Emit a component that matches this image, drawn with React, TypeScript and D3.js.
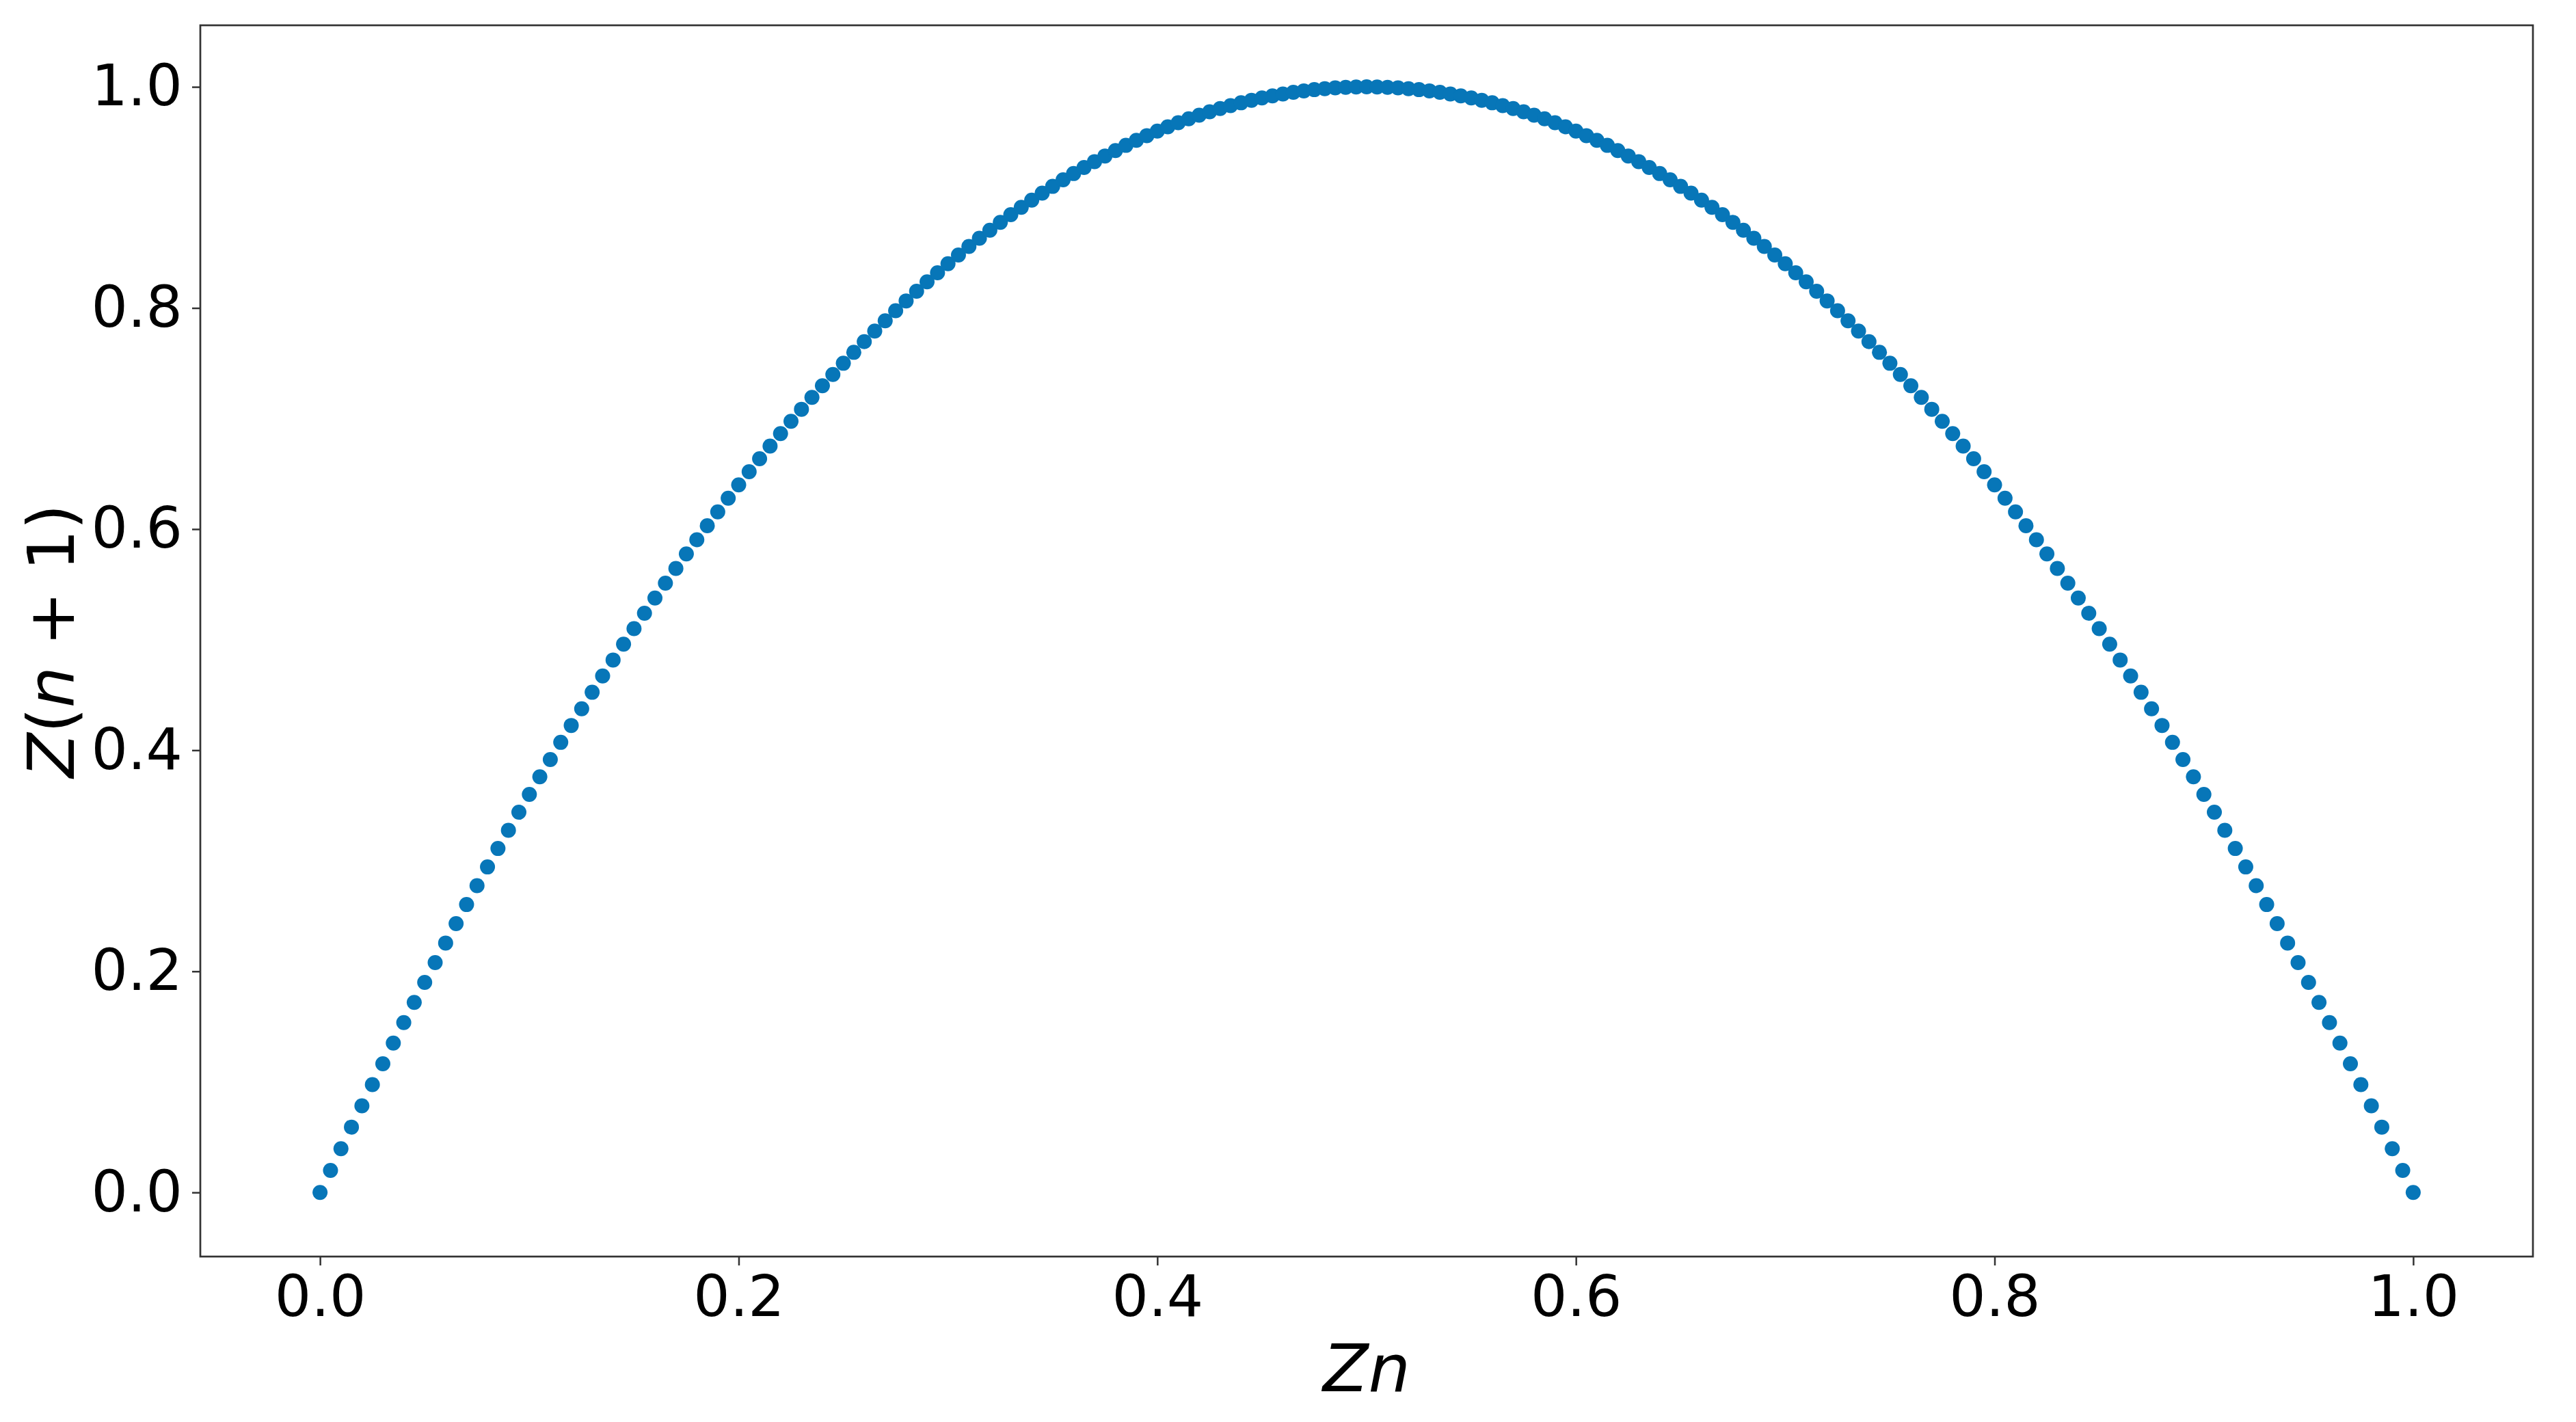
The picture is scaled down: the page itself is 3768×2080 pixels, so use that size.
import React, { useEffect, useRef } from 'react';
import * as d3 from 'd3';

// Zn values (x axis)
const zn: number[] = [
  0, 0.005, 0.01, 0.015, 0.02, 0.025, 0.03, 0.035, 0.04, 0.045,
  0.05, 0.055, 0.06, 0.065, 0.07, 0.075, 0.08, 0.085, 0.09, 0.095,
  0.1, 0.105, 0.11, 0.115, 0.12, 0.125, 0.13, 0.135, 0.14, 0.145,
  0.15, 0.155, 0.16, 0.165, 0.17, 0.175, 0.18, 0.185, 0.19, 0.195,
  0.2, 0.205, 0.21, 0.215, 0.22, 0.225, 0.23, 0.235, 0.24, 0.245,
  0.25, 0.255, 0.26, 0.265, 0.27, 0.275, 0.28, 0.285, 0.29, 0.295,
  0.3, 0.305, 0.31, 0.315, 0.32, 0.325, 0.33, 0.335, 0.34, 0.345,
  0.35, 0.355, 0.36, 0.365, 0.37, 0.375, 0.38, 0.385, 0.39, 0.395,
  0.4, 0.405, 0.41, 0.415, 0.42, 0.425, 0.43, 0.435, 0.44, 0.445,
  0.45, 0.455, 0.46, 0.465, 0.47, 0.475, 0.48, 0.485, 0.49, 0.495,
  0.5, 0.505, 0.51, 0.515, 0.52, 0.525, 0.53, 0.535, 0.54, 0.545,
  0.55, 0.555, 0.56, 0.565, 0.57, 0.575, 0.58, 0.585, 0.59, 0.595,
  0.6, 0.605, 0.61, 0.615, 0.62, 0.625, 0.63, 0.635, 0.64, 0.645,
  0.65, 0.655, 0.66, 0.665, 0.67, 0.675, 0.68, 0.685, 0.69, 0.695,
  0.7, 0.705, 0.71, 0.715, 0.72, 0.725, 0.73, 0.735, 0.74, 0.745,
  0.75, 0.755, 0.76, 0.765, 0.77, 0.775, 0.78, 0.785, 0.79, 0.795,
  0.8, 0.805, 0.81, 0.815, 0.82, 0.825, 0.83, 0.835, 0.84, 0.845,
  0.85, 0.855, 0.86, 0.865, 0.87, 0.875, 0.88, 0.885, 0.89, 0.895,
  0.9, 0.905, 0.91, 0.915, 0.92, 0.925, 0.93, 0.935, 0.94, 0.945,
  0.95, 0.955, 0.96, 0.965, 0.97, 0.975, 0.98, 0.985, 0.99, 0.995,
  1,
];

// Z(n+1) values (y axis)
const zNext: number[] = [
  0, 0.0199, 0.0396, 0.0591, 0.0784, 0.0975, 0.1164, 0.1351, 0.1536, 0.1719,
  0.19, 0.2079, 0.2256, 0.2431, 0.2604, 0.2775, 0.2944, 0.3111, 0.3276, 0.3439,
  0.36, 0.3759, 0.3916, 0.4071, 0.4224, 0.4375, 0.4524, 0.4671, 0.4816, 0.4959,
  0.51, 0.5239, 0.5376, 0.5511, 0.5644, 0.5775, 0.5904, 0.6031, 0.6156, 0.6279,
  0.64, 0.6519, 0.6636, 0.6751, 0.6864, 0.6975, 0.7084, 0.7191, 0.7296, 0.7399,
  0.75, 0.7599, 0.7696, 0.7791, 0.7884, 0.7975, 0.8064, 0.8151, 0.8236, 0.8319,
  0.84, 0.8479, 0.8556, 0.8631, 0.8704, 0.8775, 0.8844, 0.8911, 0.8976, 0.9039,
  0.91, 0.9159, 0.9216, 0.9271, 0.9324, 0.9375, 0.9424, 0.9471, 0.9516, 0.9559,
  0.96, 0.9639, 0.9676, 0.9711, 0.9744, 0.9775, 0.9804, 0.9831, 0.9856, 0.9879,
  0.99, 0.9919, 0.9936, 0.9951, 0.9964, 0.9975, 0.9984, 0.9991, 0.9996, 0.9999,
  1, 0.9999, 0.9996, 0.9991, 0.9984, 0.9975, 0.9964, 0.9951, 0.9936, 0.9919,
  0.99, 0.9879, 0.9856, 0.9831, 0.9804, 0.9775, 0.9744, 0.9711, 0.9676, 0.9639,
  0.96, 0.9559, 0.9516, 0.9471, 0.9424, 0.9375, 0.9324, 0.9271, 0.9216, 0.9159,
  0.91, 0.9039, 0.8976, 0.8911, 0.8844, 0.8775, 0.8704, 0.8631, 0.8556, 0.8479,
  0.84, 0.8319, 0.8236, 0.8151, 0.8064, 0.7975, 0.7884, 0.7791, 0.7696, 0.7599,
  0.75, 0.7399, 0.7296, 0.7191, 0.7084, 0.6975, 0.6864, 0.6751, 0.6636, 0.6519,
  0.64, 0.6279, 0.6156, 0.6031, 0.5904, 0.5775, 0.5644, 0.5511, 0.5376, 0.5239,
  0.51, 0.4959, 0.4816, 0.4671, 0.4524, 0.4375, 0.4224, 0.4071, 0.3916, 0.3759,
  0.36, 0.3439, 0.3276, 0.3111, 0.2944, 0.2775, 0.2604, 0.2431, 0.2256, 0.2079,
  0.19, 0.1719, 0.1536, 0.1351, 0.1164, 0.0975, 0.0784, 0.0591, 0.0396, 0.0199,
  0,
];

const xTicks = [0, 0.2, 0.4, 0.6, 0.8, 1.0];
const yTicks = [0, 0.2, 0.4, 0.6, 0.8, 1.0];

const W = 3768, H = 2080;
const margin = { top: 37, right: 63, bottom: 242, left: 293 };

export default function App() {
  const svgRef = useRef<SVGSVGElement>(null);

  useEffect(() => {
    const svg = d3.select(svgRef.current);
    svg.selectAll('*').remove();

    const width = W - margin.left - margin.right;
    const height = H - margin.top - margin.bottom;

    const x = d3.scaleLinear().domain([-0.0572, 1.0572]).range([0, width]);
    const y = d3.scaleLinear().domain([-0.058, 1.0557]).range([height, 0]);

    const g = svg.append('g')
      .attr('transform', `translate(${margin.left},${margin.top})`);

    g.append('g')
      .selectAll('circle')
      .data(zn)
      .join('circle')
        .attr('cx', d => x(d))
        .attr('cy', (d, i) => y(zNext[i]))
        .attr('r', 11)
        .attr('fill', '#0776b8');

    const font = '"DejaVu Sans", sans-serif';

    const xAxis = g.append('g')
      .attr('transform', `translate(0,${height})`)
      .call(d3.axisBottom(x).tickValues(xTicks).tickFormat(d3.format('.1f')).tickSizeOuter(0).tickSize(13).tickPadding(14));
    xAxis.select('.domain').remove();
    xAxis.selectAll('line').attr('stroke', '#333').attr('stroke-width', 2.5);
    xAxis.selectAll('text').attr('font-family', font).attr('font-size', 84).attr('fill', '#000');

    const yAxis = g.append('g')
      .call(d3.axisLeft(y).tickValues(yTicks).tickFormat(d3.format('.1f')).tickSizeOuter(0).tickSize(12).tickPadding(14));
    yAxis.select('.domain').remove();
    yAxis.selectAll('line').attr('stroke', '#333').attr('stroke-width', 2.5);
    yAxis.selectAll('text').attr('font-family', font).attr('font-size', 84).attr('fill', '#000');

    g.append('rect')
      .attr('width', width)
      .attr('height', height)
      .attr('fill', 'none')
      .attr('stroke', '#333')
      .attr('stroke-width', 2.7);

    g.append('text')
      .attr('x', width / 2)
      .attr('y', height + 197)
      .attr('text-anchor', 'middle')
      .attr('font-family', font)
      .attr('font-style', 'italic')
      .attr('font-size', 97)
      .text('Zn');

    const yl = g.append('text')
      .attr('transform', `translate(${-185},${height / 2}) rotate(-90)`)
      .attr('text-anchor', 'middle')
      .attr('font-family', font)
      .attr('font-size', 95);
    yl.append('tspan').attr('font-style', 'italic').text('Z');
    yl.append('tspan').text('(');
    yl.append('tspan').attr('font-style', 'italic').text('n');
    yl.append('tspan').text(' + 1)');
  }, []);

  return (
    <svg
      ref={svgRef}
      width={W}
      height={H}
      style={{ position: 'absolute', left: 0, top: 0, background: '#fff' }}
    />
  );
}
